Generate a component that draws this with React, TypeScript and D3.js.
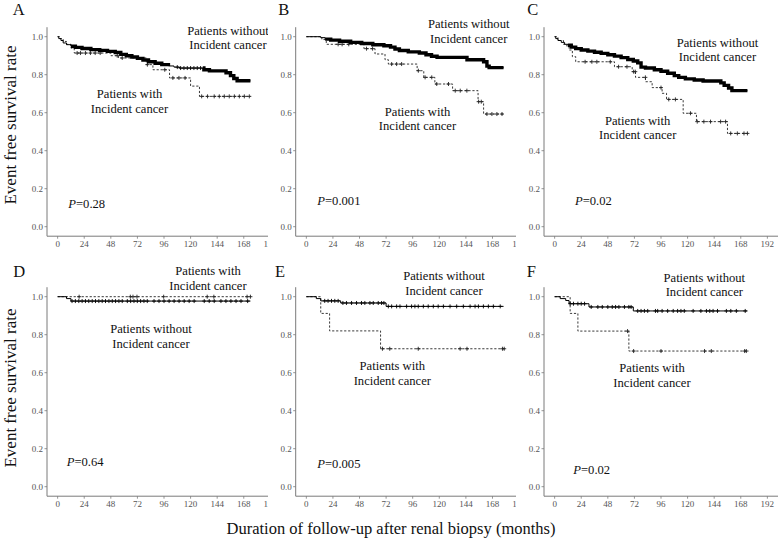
import React from 'react';
import * as d3 from 'd3';

type Step = [number, number];

// ---------- data (time in months, event-free survival) ----------
// Panel A
const aWithoutSteps: Step[] = [[0,1],[1,0.99],[3,0.98],[5,0.967],[8,0.958],[12,0.95],[16,0.944],[22,0.938],[30,0.932],[38,0.928],[45,0.923],[52,0.917],[57,0.907],[62,0.9],[67,0.893],[72,0.886],[77,0.877],[82,0.868],[88,0.86],[94,0.853],[100,0.846],[105,0.84],[110,0.835],[132,0.826],[137,0.82],[152,0.81],[156,0.795],[159,0.78],[162,0.768],[174,0.768]];
const aWithSteps: Step[] = [[0,1],[2,0.99],[5,0.975],[8,0.96],[12,0.94],[15,0.914],[48,0.9],[55,0.888],[80,0.853],[86,0.826],[101,0.783],[120,0.74],[128,0.686],[174,0.686]];
const aWithoutCensor = [108,111,114,117,120,123,126,129];
const aWithCensor = [17.6,20.6,25.1,29.6,33.9,38.4,53.8,58.3,81,96.7,104,109.5,115,130,135.3,141.3,145.9,150.4,154.9,159.5,164,168.5,173];

// Panel B
const bWithoutSteps: Step[] = [[0,1],[13,0.995],[17,0.987],[22,0.982],[30,0.976],[40,0.97],[50,0.964],[60,0.958],[70,0.952],[76,0.945],[80,0.935],[84,0.927],[92,0.92],[102,0.914],[108,0.905],[113,0.897],[118,0.891],[145,0.879],[160,0.868],[163,0.845],[165,0.837],[178,0.837]];
const bWithSteps: Step[] = [[0,1],[14,0.985],[18,0.96],[52,0.937],[62,0.909],[71,0.879],[74,0.856],[100,0.821],[106,0.786],[116,0.751],[132,0.716],[155,0.658],[160,0.593],[178,0.593]];
const bWithoutCensor: number[] = [];
const bWithCensor = [28.7,32.3,38.3,54.3,59.8,77,81.5,86,101.1,107.2,113.2,117.7,128.3,134.4,138.9,144.9,155.5,157.9,163,167.5,172,176.6];

// Panel C
const cWithoutSteps: Step[] = [[0,1],[1,0.99],[3,0.98],[6,0.97],[9,0.96],[12,0.955],[15,0.945],[19,0.937],[24,0.93],[30,0.924],[36,0.918],[42,0.912],[48,0.905],[54,0.898],[60,0.89],[66,0.88],[71,0.872],[75,0.862],[78,0.84],[82,0.835],[90,0.826],[96,0.818],[102,0.808],[108,0.795],[112,0.786],[118,0.778],[126,0.772],[134,0.767],[150,0.757],[153,0.744],[157,0.73],[160,0.716],[174,0.716]];
const cWithSteps: Step[] = [[0,1],[3,0.98],[8,0.96],[11,0.95],[13,0.93],[16,0.895],[19,0.868],[54,0.842],[70,0.816],[73,0.786],[82,0.763],[88,0.732],[97,0.702],[101,0.67],[116,0.597],[128,0.553],[156,0.491],[174,0.491]];
const cWithoutCensor: number[] = [];
const cWithCensor = [27.5,33.6,38.1,50.2,57.7,65.3,71.3,72.8,81.9,96,103,109,122.6,128.7,134.7,140.7,149.8,154.3,158.9,164.9,170.9,174];

// Panel D
const dWithoutSteps: Step[] = [[0,1],[8,0.99],[12,0.977],[174,0.977]];
const dWithSteps: Step[] = [[0,1],[174,1]];
const dWithoutCensor = [13,16,19.1,22.1,25.1,28.1,31.2,34.2,37.2,40.2,43.2,46.3,49.3,52.3,55.3,58.3,62.9,65.9,68.9,71.9,74.9,77.9,80.9,87,91.5,96,100.6,105.1,109.6,114.2,118.7,123.2,132.3,136.8,141.3,147.4,151.9,156.4,161,165.5,171.5];
const dWithCensor = [19.4,65.6,68,71.6,95.7,135,141,171,174];

// Panel E
const eWithoutSteps: Step[] = [[0,1],[9,0.99],[13,0.978],[31,0.967],[72,0.949],[178,0.949]];
const eWithSteps: Step[] = [[0,1],[13,0.912],[21,0.82],[67,0.726],[179,0.726]];
const eWithoutCensor = [16.6,19.6,22.7,25.7,28.7,33,36.2,40.8,45.3,49.8,52.8,57.4,60.4,64.9,67.9,70,74,77,81.5,84.5,90.5,95,98,101,105.6,110,114.6,119,123.7,129.7,135.7,141.7,147.8,152.3,155.3,159.8,164.3,168.8,175];
const eWithCensor = [68.7,75.3,101,138.8,145,177,178.6];

// Panel F
const fWithoutSteps: Step[] = [[0,1],[5,0.99],[10,0.98],[13,0.963],[31,0.946],[71,0.925],[174,0.925]];
const fWithSteps: Step[] = [[0,1],[14,0.912],[21,0.819],[67,0.714],[175,0.714]];
const fWithoutCensor = [14,17,21,24,27,33,39,43,48,52,55,58,63,67,69,75,78,81,84,91,93,97,102,107,111,114,117,125,132,137,140,143,147,155,159,164,172];
const fWithCensor = [65.8,71.3,96,135.3,141.4,171.5,173];

const xTicks = [0, 24, 48, 72, 96, 120, 144, 168, 192];
const yTicks = [0, 0.2, 0.4, 0.6, 0.8, 1.0];
const panelLetters = ['A', 'B', 'C', 'D', 'E', 'F'];
const pValues = ['0.28', '0.001', '0.02', '0.64', '0.005', '0.02'];
const withLabel = ['Patients with', 'Incident cancer'];
const withoutLabel = ['Patients without', 'Incident cancer'];
const yTitle = 'Event free survival rate';
const xTitle = 'Duration of follow-up after renal biopsy (months)';

const curves = [
  { without: aWithoutSteps, withC: aWithSteps, woCens: aWithoutCensor, wCens: aWithCensor },
  { without: bWithoutSteps, withC: bWithSteps, woCens: bWithoutCensor, wCens: bWithCensor },
  { without: cWithoutSteps, withC: cWithSteps, woCens: cWithoutCensor, wCens: cWithCensor },
  { without: dWithoutSteps, withC: dWithSteps, woCens: dWithoutCensor, wCens: dWithCensor },
  { without: eWithoutSteps, withC: eWithSteps, woCens: eWithoutCensor, wCens: eWithCensor },
  { without: fWithoutSteps, withC: fWithSteps, woCens: fWithoutCensor, wCens: fWithCensor },
];

// ---------- layout ----------
const layout = [
  { ax: 47, top: 0, clip: 268, lx: 12.7, ly: 15, px: 68.3, py: 207.5, wo: [228, 34.5], wi: [129.5, 98.3], dense: [[12, 100], [131, 174]] },
  { ax: 295.7, top: 0, clip: 516, lx: 278.3, ly: 15, px: 317.3, py: 205, wo: [468.7, 28.3], wi: [417.5, 115.5], dense: [[17, 178]] },
  { ax: 544, top: 0, clip: 778, lx: 527.3, ly: 15, px: 575, py: 205, wo: [717.5, 46.7], wi: [637.7, 124.5], dense: [[12, 174]] },
  { ax: 47, top: 260, clip: 268, lx: 13.3, ly: 16.5, px: 66.7, py: 206, wo: [151, 73.3], wi: [208, 15], dense: [] },
  { ax: 295.7, top: 260, clip: 516, lx: 275, ly: 16.7, px: 317.3, py: 208, wo: [444, 20.3], wi: [392.3, 110.3], dense: [] },
  { ax: 544, top: 260, clip: 778, lx: 526.7, ly: 16.5, px: 573.3, py: 214, wo: [704.3, 21.8], wi: [652, 112.3], dense: [] },
];

const FONT = '"Liberation Serif", "Times New Roman", Times, serif';
const PW = 234;

function survAt(steps: Step[], t: number) {
  let s = steps[0][1];
  for (const [ti, si] of steps) if (ti <= t) s = si;
  return s;
}
function subSteps(steps: Step[], t0: number, t1: number): Step[] {
  const pts: Step[] = [[t0, survAt(steps, t0)]];
  for (const [ti, si] of steps) if (ti > t0 && ti < t1) pts.push([ti, si]);
  pts.push([t1, survAt(steps, t1)]);
  return pts;
}

function Panel({ i }: { i: number }) {
  const L = layout[i];
  const C = curves[i];
  const x = d3.scaleLinear().domain([-9.6, 201.6]).range([L.ax, L.ax + PW]);
  const y = d3.scaleLinear().domain([-0.05, 1.05]).range([L.top + 236.2, L.top + 27.2]);
  const line = d3.line<Step>().x(d => x(d[0])).y(d => y(d[1])).curve(d3.curveStepAfter);
  const clipId = `clip${i}`;
  const plus = (t: number, steps: Step[], k: string, stroke: string) => {
    const cx = x(t), cy = y(survAt(steps, t));
    return (
      <g key={k} stroke={stroke} strokeWidth={0.9}>
        <line x1={cx - 2} x2={cx + 2} y1={cy} y2={cy} />
        <line x1={cx} x2={cx} y1={cy - 2} y2={cy + 2} />
      </g>
    );
  };
  const y0 = y(-0.05);
  return (
    <g>
      <defs>
        <clipPath id={clipId}>
          <rect x={L.ax - 60} y={L.top} width={L.clip - (L.ax - 60)} height={260} />
        </clipPath>
      </defs>
      <g clipPath={`url(#${clipId})`}>
        <line x1={L.ax} x2={L.ax + PW} y1={y0} y2={y0} stroke="#7a7a7a" strokeWidth={1} />
        <line x1={L.ax} x2={L.ax} y1={y0} y2={y(1.05)} stroke="#7a7a7a" strokeWidth={1} />
        {xTicks.map(t => (
          <g key={'xt' + t}>
            <line x1={x(t)} x2={x(t)} y1={y0} y2={y0 + 2.5} stroke="#7a7a7a" strokeWidth={0.8} />
            <text x={x(t)} y={L.top + 246.5} textAnchor="middle" fontFamily={FONT} fontSize={9} fill="#555">{t}</text>
          </g>
        ))}
        {yTicks.map(v => (
          <g key={'yt' + v}>
            <line x1={L.ax - 2.5} x2={L.ax} y1={y(v)} y2={y(v)} stroke="#7a7a7a" strokeWidth={0.8} />
            <text x={L.ax - 4} y={y(v) + 3} textAnchor="end" fontFamily={FONT} fontSize={9} fill="#555">{d3.format('.1f')(v)}</text>
          </g>
        ))}
        <path d={line(C.withC) || ''} fill="none" stroke="#222" strokeWidth={0.9} strokeDasharray="2.2 1.8" />
        {C.wCens.map((t, k) => plus(t, C.withC, 'wc' + k, '#222'))}
        <path d={line(C.without) || ''} fill="none" stroke="#000" strokeWidth={1} />
        {L.dense.map((r, k) => (
          <path key={'dn' + k} d={line(subSteps(C.without, r[0], r[1])) || ''} fill="none" stroke="#000" strokeWidth={3.4} />
        ))}
        {C.woCens.map((t, k) => plus(t, C.without, 'oc' + k, '#000'))}
        {withoutLabel.map((s, k) => (
          <text key={'wo' + k} x={L.wo[0]} y={L.top + L.wo[1] + k * 14.6} textAnchor="middle" fontFamily={FONT} fontSize={12.6} fill="#111">{s}</text>
        ))}
        {withLabel.map((s, k) => (
          <text key={'wi' + k} x={L.wi[0]} y={L.top + L.wi[1] + k * 14.6} textAnchor="middle" fontFamily={FONT} fontSize={12.6} fill="#111">{s}</text>
        ))}
        <text x={L.px} y={L.top + L.py} fontFamily={FONT} fontSize={12.6} fill="#111">
          <tspan fontStyle="italic">P</tspan>={pValues[i]}
        </text>
      </g>
      <text x={L.lx} y={L.top + L.ly} fontFamily={FONT} fontSize={16.5} fill="#111">{panelLetters[i]}</text>
    </g>
  );
}

export default function App() {
  return (
    <svg width={778} height={540} style={{ position: 'absolute', left: 0, top: 0, background: '#fff' }}>
      <rect x={0} y={0} width={778} height={540} fill="#fff" />
      {layout.map((_, i) => <Panel key={i} i={i} />)}
      <text transform="translate(16,125) rotate(-90)" textAnchor="middle" fontFamily={FONT} fontSize={17} fill="#111">{yTitle}</text>
      <text transform="translate(16,388) rotate(-90)" textAnchor="middle" fontFamily={FONT} fontSize={17} fill="#111">{yTitle}</text>
      <text x={391} y={534} textAnchor="middle" fontFamily={FONT} fontSize={16.5} fill="#111">{xTitle}</text>
    </svg>
  );
}
